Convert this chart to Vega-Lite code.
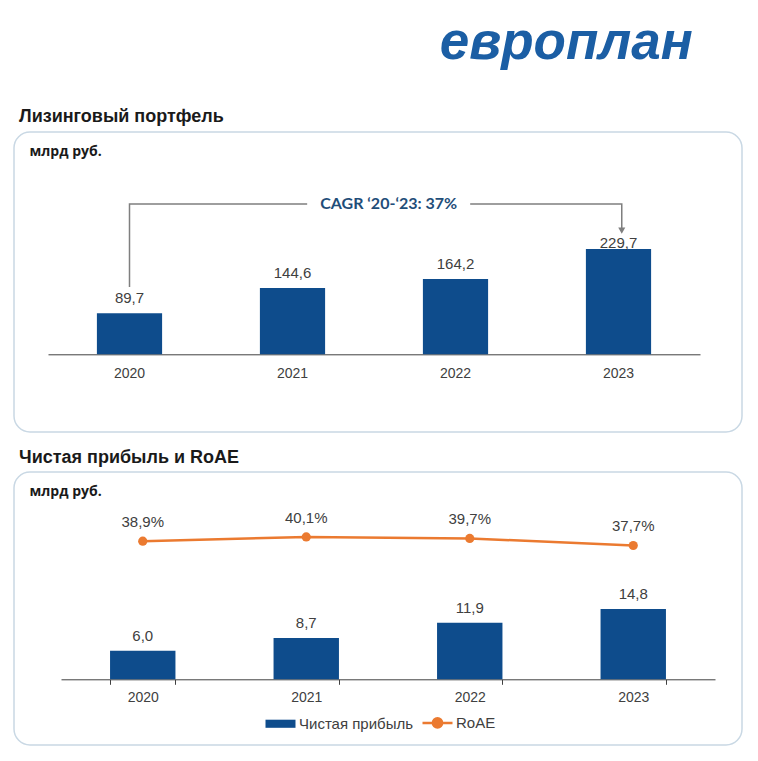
{
  "$schema": "https://vega.github.io/schema/vega-lite/v6.json",
  "background": "white",
  "padding": {"left": 13, "top": 17, "right": 0, "bottom": 0},
  "title": {"text": "европлан", "anchor": "end", "dx": -50, "fontSize": 53, "font": "Liberation Sans", "fontWeight": "bold", "fontStyle": "italic", "color": "#1B5EA4", "offset": -5, "baseline": "alphabetic"},
  "spacing": 15,
  "resolve": {"legend": {"color": "independent"}},
  "datasets": {
    "portfolio": [
      {"year": "2020", "v": 89.7},
      {"year": "2021", "v": 144.6},
      {"year": "2022", "v": 164.2},
      {"year": "2023", "v": 229.7}
    ],
    "cagr": [
      {"part": "line", "seg": "a", "i": 1, "pos": 0.5, "v": 147},
      {"part": "line", "seg": "a", "i": 2, "pos": 0.5, "v": 328},
      {"part": "line", "seg": "a", "i": 3, "pos": 1.59, "v": 328},
      {"part": "line", "seg": "b", "i": 1, "pos": 2.59, "v": 328},
      {"part": "line", "seg": "b", "i": 2, "pos": 3.52, "v": 328},
      {"part": "line", "seg": "b", "i": 3, "pos": 3.52, "v": 276},
      {"part": "arrow", "seg": "c", "i": 1, "pos": 3.52, "v": 270},
      {"part": "label", "seg": "d", "i": 1, "pos": 2.09, "v": 328, "label": "CAGR ‘20-‘23: 37%"}
    ],
    "profit": [
      {"year": "2020", "profit": 6.0, "roae": 0.389},
      {"year": "2021", "profit": 8.7, "roae": 0.401},
      {"year": "2022", "profit": 11.9, "roae": 0.397},
      {"year": "2023", "profit": 14.8, "roae": 0.377}
    ]
  },
  "vconcat": [
    {
      "width": 728,
      "height": 300,
      "title": {"text": "Лизинговый портфель", "anchor": "start", "dx": 5, "offset": 6},
      "layer": [
        {
          "data": {"name": "portfolio"},
          "encoding": {
            "x": {"field": "year", "type": "ordinal", "title": null,
                  "scale": {"type": "band", "range": [34, 686], "paddingInner": 0.6, "paddingOuter": 0.3},
                  "axis": {"offset": -77.7}},
            "y": {"field": "v", "type": "quantitative", "title": "млрд руб.",
                  "scale": {"domain": [-169.7, 485.4], "nice": false, "zero": false}}
          },
          "layer": [
            {"mark": {"type": "bar", "color": "#0E4C8C"}},
            {"transform": [{"filter": "datum.year != '2023'"}],
             "mark": {"type": "text", "dy": -10, "baseline": "alphabetic", "fontSize": 15, "color": "#404040"},
             "encoding": {"text": {"field": "v", "type": "quantitative", "format": ".1f"}}},
            {"transform": [{"filter": "datum.year == '2023'"}],
             "mark": {"type": "text", "dy": -1, "baseline": "alphabetic", "fontSize": 15, "color": "#404040"},
             "encoding": {"text": {"field": "v", "type": "quantitative", "format": ".1f"}}}
          ]
        },
        {
          "data": {"name": "cagr"},
          "encoding": {
            "x": {"field": "pos", "type": "quantitative",
                  "scale": {"domain": [0, 4], "range": [34, 686], "nice": false, "zero": false},
                  "axis": null},
            "y": {"field": "v", "type": "quantitative", "title": "млрд руб.",
                  "scale": {"domain": [-169.7, 485.4], "nice": false, "zero": false}}
          },
          "layer": [
            {"transform": [{"filter": "datum.part == 'line'"}],
             "mark": {"type": "line", "color": "#7F7F7F", "strokeWidth": 1.5},
             "encoding": {"detail": {"field": "seg", "type": "nominal"}, "order": {"field": "i", "type": "quantitative"}}},
            {"transform": [{"filter": "datum.part == 'arrow'"}],
             "mark": {"type": "point", "shape": "triangle-down", "filled": true, "color": "#7F7F7F", "size": 50, "opacity": 1}},
            {"transform": [{"filter": "datum.part == 'label'"}],
             "mark": {"type": "text", "font": "Lato", "fontWeight": "bold", "fontSize": 16, "color": "#1F4E79", "baseline": "middle"},
             "encoding": {"text": {"field": "label", "type": "nominal"}}}
          ]
        }
      ],
      "resolve": {"scale": {"x": "independent"}}
    },
    {
      "width": 728,
      "height": 273,
      "title": {"text": "Чистая прибыль и RoAE", "anchor": "start", "dx": 5, "offset": 5},
      "data": {"name": "profit"},
      "encoding": {
        "x": {"field": "year", "type": "ordinal", "title": null,
              "scale": {"type": "band", "range": [47, 701], "paddingInner": 0.6, "paddingOuter": 0.3},
              "axis": {"offset": -65.7, "ticks": true, "tickBand": "extent", "tickSize": 5, "labelPadding": 6}}
      },
      "layer": [
        {
          "encoding": {
            "y": {"field": "profit", "type": "quantitative", "title": "млрд руб.",
                  "scale": {"domain": [-13.83, 43.64], "nice": false, "zero": false}}
          },
          "layer": [
            {"mark": {"type": "bar"},
             "encoding": {"color": {"datum": "Чистая прибыль", "type": "nominal",
               "scale": {"domain": ["Чистая прибыль", "RoAE"], "range": ["#0E4C8C", "#EB7A30"]},
               "legend": {"title": null, "orient": "none", "legendX": 259, "legendY": 243, "direction": "horizontal",
                 "labelFontSize": 15, "labelColor": "#404040", "labelFont": "Liberation Sans",
                 "symbolSize": 900, "labelOffset": 11, "columnPadding": 4,
                 "encode": {"symbols": {"update": {
                   "shape": {"signal": "datum.value === 'RoAE' ? 'M-1,0H1M-0.31,0A0.31,0.31 0 1,0 0.31,0A0.31,0.31 0 1,0 -0.31,0Z' : 'M-1,-0.27H1V0.27H-1Z'"},
                   "fill": {"signal": "datum.value === 'RoAE' ? '#EB7A30' : '#0E4C8C'"},
                   "stroke": {"signal": "datum.value === 'RoAE' ? '#EB7A30' : '#0E4C8C'"},
                   "strokeWidth": {"signal": "datum.value === 'RoAE' ? 2.5 : 0"},
                   "opacity": {"value": 1}
                 }}}}}}},
            {"mark": {"type": "text", "dy": -10, "baseline": "alphabetic", "fontSize": 15, "color": "#404040"},
             "encoding": {"text": {"field": "profit", "type": "quantitative", "format": ".1f"}}}
          ]
        },
        {
          "encoding": {
            "y": {"field": "roae", "type": "quantitative", "axis": null,
                  "scale": {"domain": [-0.185, 0.584], "nice": false, "zero": false}}
          },
          "layer": [
            {"mark": {"type": "line", "strokeWidth": 2.5},
             "encoding": {"color": {"datum": "RoAE", "type": "nominal"}}},
            {"mark": {"type": "point", "filled": true, "size": 85, "opacity": 1},
             "encoding": {"color": {"datum": "RoAE", "type": "nominal"}}},
            {"mark": {"type": "text", "dy": -14, "baseline": "alphabetic", "fontSize": 15, "color": "#404040"},
             "encoding": {"text": {"field": "roae", "type": "quantitative", "format": ".1%"}}}
          ]
        }
      ],
      "resolve": {"scale": {"y": "independent"}}
    }
  ],
  "config": {
    "font": "Liberation Sans",
    "locale": {"number": {"decimal": ",", "thousands": " ", "grouping": [3], "currency": ["", ""]}},
    "view": {"stroke": "#C9D8E4", "strokeWidth": 1.5, "cornerRadius": 16},
    "title": {"font": "Liberation Sans", "fontSize": 18, "fontWeight": "bold", "color": "#1A1A1A", "baseline": "alphabetic"},
    "axis": {"grid": false},
    "axisX": {"domainColor": "#404040", "domainWidth": 1, "labelFontSize": 14, "labelColor": "#404040", "labelFont": "Liberation Sans", "labelAngle": 0, "ticks": false, "labelPadding": 12, "tickColor": "#404040"},
    "axisY": {"labels": false, "ticks": false, "domain": false, "titleAngle": 0, "titleAlign": "left", "titleBaseline": "alphabetic", "titleX": 15, "titleY": 23, "titleFont": "Open Sans", "titleFontSize": 14, "titleFontWeight": "bold", "titleColor": "#1A1A1A", "minExtent": 0, "titlePadding": 0}
  }
}
